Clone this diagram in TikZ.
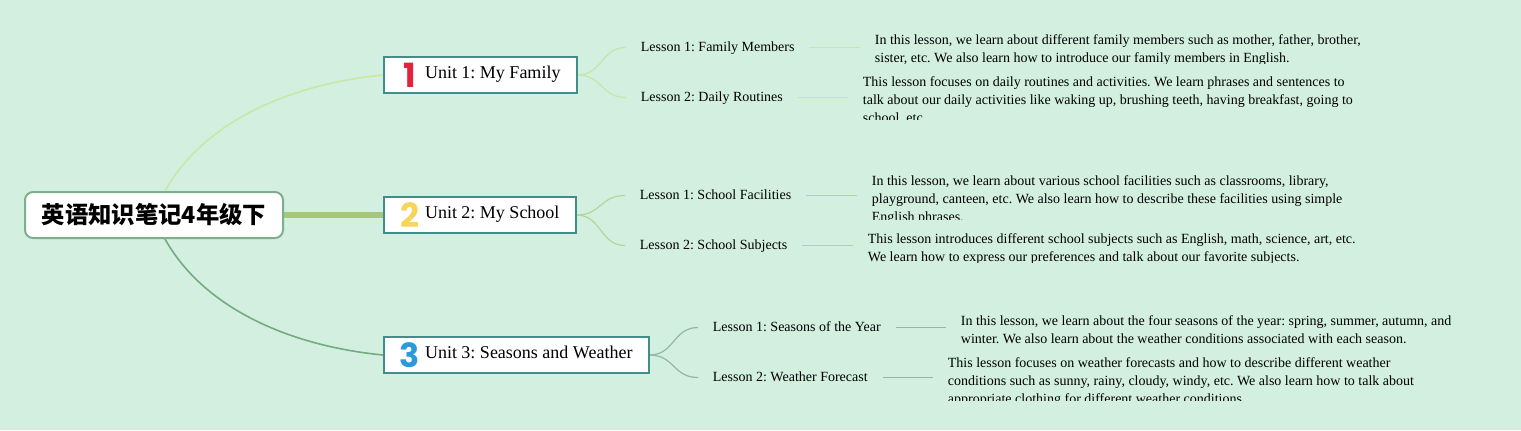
\documentclass[tikz,border=0pt]{standalone}
\usepackage{fontspec}
\setmainfont{Liberation Serif}
\newfontfamily\cjkfont{Noto Sans CJK SC}
\newfontfamily\numfont{Poppins}
\usetikzlibrary{backgrounds}
\frenchspacing

\definecolor{bgmint}{HTML}{D2EFE0}
\definecolor{rootline}{HTML}{7FAE8C}
\definecolor{unitline}{HTML}{3F8E8C}
\definecolor{brlight}{HTML}{C9E8A6}
\definecolor{brmid}{HTML}{A6C77B}
\definecolor{brdark}{HTML}{74AB80}
\definecolor{twiglight}{HTML}{C6E6AA}
\definecolor{twigmid}{HTML}{B2D795}
\definecolor{twigdark}{HTML}{93B9A0}
\definecolor{numred}{HTML}{E5223B}
\definecolor{numyellow}{HTML}{F6D55A}
\definecolor{numblue}{HTML}{2A9ADA}

\tikzset{
  root/.style={draw=rootline, line width=1.5pt, fill=white, rounded corners=6pt,
    minimum width=193.5pt, minimum height=34.5pt, inner sep=0pt,
    font=\cjkfont\bfseries\fontsize{17.5pt}{20pt}\selectfont},
  unit/.style={draw=unitline, line width=1.5pt, fill=white, anchor=west,
    minimum height=27pt, inner ysep=0pt, inner xsep=12pt,
    font=\fontsize{13.5pt}{16pt}\selectfont},
  lesson/.style={anchor=base west, inner xsep=11pt, inner ysep=1pt,
    text height=7.5pt, text depth=2.25pt, font=\fontsize{10.5pt}{13pt}\selectfont},
  note/.style={anchor=base west, inner xsep=11pt, inner ysep=0pt,
    font=\fontsize{10.5pt}{13.5pt}\selectfont},
  twig/.style={line width=0.9pt}
}
\newcommand\unitmark[2]{\makebox[15pt]{\raisebox{-6.5pt}{\numfont\bfseries\fontsize{25pt}{25pt}\selectfont\color{#1}#2}}\hspace{3.75pt}}
\newcommand\notetext[1]{\parbox[t]{480pt}{\raggedright #1}}

\begin{document}
\begin{tikzpicture}[x=0.75pt,y=-0.75pt]
  \useasboundingbox (0,0) rectangle (1521,430);

  \node[root] (root) at (154,215) {英语知识笔记4年级下};
  \node[unit] (u1) at (383,75) {\unitmark{numred}{1}Unit 1: My Family};
  \node[unit] (u2) at (383,215) {\unitmark{numyellow}{2}Unit 2: My School};
  \node[unit] (u3) at (383,355) {\unitmark{numblue}{3}Unit 3: Seasons and Weather};

  \node[lesson] (l11) at (626,51) {Lesson 1: Family Members};
  \node[lesson] (l12) at (626,101) {Lesson 2: Daily Routines};
  \node[lesson] (l21) at (625,199) {Lesson 1: School Facilities};
  \node[lesson] (l22) at (625,249) {Lesson 2: School Subjects};
  \node[lesson] (l31) at (698,331) {Lesson 1: Seasons of the Year};
  \node[lesson] (l32) at (698,381) {Lesson 2: Weather Forecast};

  \begin{scope}
    \clip (850,25) rectangle (1400,63);
    \node[note] (n11) at (860,44) {\notetext{In this lesson, we learn about different family members such as mother, father, brother,\\
      sister, etc. We also learn how to introduce our family members in English.}};
  \end{scope}
  \begin{scope}
    \clip (840,66) rectangle (1400,119.5);
    \node[note] (n12) at (848,86) {\notetext{This lesson focuses on daily routines and activities. We learn phrases and sentences to\\
      talk about our daily activities like waking up, brushing teeth, having breakfast, going to\\
      school, etc.}};
  \end{scope}
  \begin{scope}
    \clip (850,165) rectangle (1400,219);
    \node[note] (n21) at (857,185) {\notetext{In this lesson, we learn about various school facilities such as classrooms, library,\\
      playground, canteen, etc. We also learn how to describe these facilities using simple\\
      English phrases.}};
  \end{scope}
  \begin{scope}
    \clip (850,225) rectangle (1400,262);
    \node[note] (n22) at (853,243) {\notetext{This lesson introduces different school subjects such as English, math, science, art, etc.\\
      We learn how to express our preferences and talk about our favorite subjects.}};
  \end{scope}
  \begin{scope}
    \clip (940,305) rectangle (1510,348);
    \node[note] (n31) at (946,325) {\notetext{In this lesson, we learn about the four seasons of the year: spring, summer, autumn, and\\
      winter. We also learn about the weather conditions associated with each season.}};
  \end{scope}
  \begin{scope}
    \clip (930,350) rectangle (1510,400);
    \node[note] (n32) at (933,367) {\notetext{This lesson focuses on weather forecasts and how to describe different weather\\
      conditions such as sunny, rainy, cloudy, windy, etc. We also learn how to talk about\\
      appropriate clothing for different weather conditions.}};
  \end{scope}

  \begin{scope}[on background layer]
    \fill[bgmint] (0,0) rectangle (1521,430);
    \draw[brlight, line width=1.2pt] (root.center) .. controls (185,130) and (280,85) .. (u1.west);
    \draw[brmid, line width=5pt] (root.east) -- (u2.west);
    \draw[brdark, line width=1.2pt] (root.center) .. controls (185,300) and (280,345) .. (u3.west);

    \draw[twig, twiglight] (u1.east) .. controls +(25,0) and +(-25,0) .. (l11.west);
    \draw[twig, twiglight] (u1.east) .. controls +(25,0) and +(-25,0) .. (l12.west);
    \draw[twig, twigmid] (u2.east) .. controls +(25,0) and +(-25,0) .. (l21.west);
    \draw[twig, twigmid] (u2.east) .. controls +(25,0) and +(-25,0) .. (l22.west);
    \draw[twig, twigdark] (u3.east) .. controls +(25,0) and +(-25,0) .. (l31.west);
    \draw[twig, twigdark] (u3.east) .. controls +(25,0) and +(-25,0) .. (l32.west);

    \draw[twig, twiglight] (l11.east) -- (l11.east -| n11.west);
    \draw[twig, twiglight] (l12.east) -- (l12.east -| n12.west);
    \draw[twig, twigmid] (l21.east) -- (l21.east -| n21.west);
    \draw[twig, twigmid] (l22.east) -- (l22.east -| n22.west);
    \draw[twig, twigdark] (l31.east) -- (l31.east -| n31.west);
    \draw[twig, twigdark] (l32.east) -- (l32.east -| n32.west);
  \end{scope}
\end{tikzpicture}
\end{document}
